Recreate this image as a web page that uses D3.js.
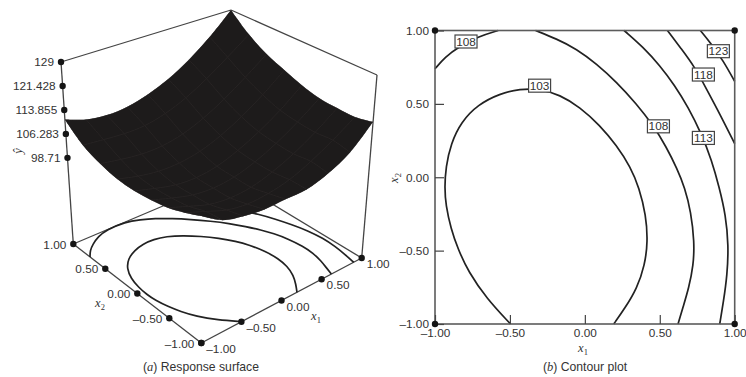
<!DOCTYPE html>
<html>
<head>
<meta charset="utf-8">
<script src="https://cdn.jsdelivr.net/npm/d3@7"></script>
<style>
  html, body { margin: 0; padding: 0; background: #fff; }
  svg { display: block; }
  text { font-family: "Liberation Sans", Arial, sans-serif; font-size: 11.8px; fill: #333; }
  .math { font-family: "Liberation Serif", serif; font-style: italic; font-size: 12.5px; }
  .caption { font-size: 12.2px; }
  .contour { fill: none; stroke: #222; stroke-width: 1.7; }
  .edge { fill: none; stroke: #444; stroke-width: 1.3; }
  .frame { fill: none; stroke: #5c5c5c; stroke-width: 1.6; }
  .dot { fill: #151515; }
</style>
</head>
<body>
<div id="chart"></div>
<script>
// tick labels
const axisTicks = [-1, -0.5, 0, 0.5, 1];
const axisLabels = ['\u20131.00', '\u20130.50', '0.00', '0.50', '1.00'];
const yTicks = [98.71, 106.283, 113.855, 121.428, 129];
const yLabels = ['98.71', '106.283', '113.855', '121.428', '129'];

// surface heights, rows are x2 from -1 to 1, columns x1 from -1 to 1
const gridSteps = [-1, -0.75, -0.5, -0.25, 0, 0.25, 0.5, 0.75, 1];
const surface = [
  [108.0, 104.1, 102.5, 101.7, 101.9, 102.0, 104.0, 107.6, 114.3],
  [105.8, 103.5, 101.2, 100.2, 100.6, 102.0, 104.8, 108.6, 113.1],
  [104.0, 101.8, 99.7, 98.9, 99.4, 101.3, 104.2, 108.2, 113.2],
  [103.0, 101.0, 99.3, 98.7, 99.4, 101.4, 104.5, 108.6, 113.6],
  [102.4, 100.6, 99.1, 98.7, 99.6, 101.9, 105.2, 109.5, 115.0],
  [102.6, 101.0, 100.0, 100.0, 101.1, 103.5, 107.0, 111.6, 117.2],
  [103.9, 102.8, 102.0, 102.1, 103.4, 106.0, 109.7, 114.4, 119.7],
  [106.2, 105.6, 105.1, 105.3, 106.8, 109.5, 113.4, 118.2, 123.5],
  [110.8, 108.6, 107.7, 108.1, 109.8, 112.6, 116.7, 122.1, 129.0]
];

// contour traces as [x1, x2]
const contour103 = [
  [-0.496, -1], [-0.656, -0.825], [-0.778, -0.644], [-0.848, -0.485], [-0.894, -0.349],
  [-0.928, -0.19], [-0.936, -0.07], [-0.928, 0.07], [-0.894, 0.229], [-0.826, 0.376],
  [-0.714, 0.495], [-0.567, 0.57], [-0.433, 0.602], [-0.3, 0.602], [-0.167, 0.562],
  [-0.033, 0.478], [0.1, 0.354], [0.211, 0.218], [0.305, 0.07], [0.362, -0.07],
  [0.408, -0.258], [0.42, -0.44], [0.4, -0.599], [0.348, -0.757], [0.267, -0.893], [0.193, -1]
];
const contour108Right = [
  [-0.329, 1], [-0.189, 0.943], [-0.056, 0.875], [0.078, 0.773], [0.211, 0.649],
  [0.344, 0.501], [0.456, 0.354], [0.544, 0.206], [0.615, 0.059], [0.667, -0.07],
  [0.708, -0.236], [0.731, -0.44], [0.725, -0.599], [0.693, -0.757], [0.656, -0.882], [0.622, -1]
];
const contour108Left = [[-1, 0.739], [-0.933, 0.819], [-0.844, 0.887], [-0.711, 0.959], [-0.578, 1]];
const contour113 = [
  [0.262, 1], [0.389, 0.887], [0.5, 0.762], [0.6, 0.626], [0.689, 0.478], [0.778, 0.297],
  [0.846, 0.116], [0.897, -0.07], [0.94, -0.258], [0.959, -0.463], [0.95, -0.667],
  [0.925, -0.848], [0.9, -1]
];
const contour118 = [[0.551, 1], [0.644, 0.875], [0.733, 0.751], [0.811, 0.603], [0.9, 0.433], [1, 0.229]];
const contour123 = [[0.771, 1], [0.844, 0.909], [0.922, 0.796], [1, 0.653]];

// contour label anchors: level, x1, x2
const contourLabels = [
  ['108', -0.793, 0.925], ['103', -0.302, 0.624], ['108', 0.491, 0.347],
  ['113', 0.791, 0.268], ['118', 0.791, 0.7], ['123', 0.891, 0.859]
];

const width = 746;
const height = 377;

const svg = d3.select('#chart').append('svg').attr('width', width).attr('height', height);

// ---- (a) response surface ----
// the box corners on screen; base and top of each vertical, bilinear between them
const boxBase = { front: [201.3, 343], left: [73.3, 244], right: [361.7, 258], back: [229, 178] };
const boxTop = { front: [201.5, 143], left: [61, 62], right: [377, 75], back: [231, 10] };
const u = d3.scaleLinear().domain([-1, 1]).range([0, 1]);
const heightScale = d3.scaleLinear().domain([71.5, 129]).range([0, 1]);

function bilinear(box, x1, x2) {
  const a = u(x1);
  const b = u(x2);
  return [0, 1].map((i) =>
    box.front[i] * (1 - a) * (1 - b) + box.right[i] * a * (1 - b) + box.left[i] * (1 - a) * b + box.back[i] * a * b);
}

function project(x1, x2, y) {
  const t = heightScale(y);
  const p0 = bilinear(boxBase, x1, x2);
  const p1 = bilinear(boxTop, x1, x2);
  return [p0[0] + (p1[0] - p0[0]) * t, p0[1] + (p1[1] - p0[1]) * t];
}

const left = svg.append('g').attr('class', 'surface-panel');
const smooth = d3.line().curve(d3.curveCatmullRom.alpha(0.5));
const traced = d3.line().curve(d3.curveBasis);
const floorY = heightScale.domain()[0];
const topY = heightScale.domain()[1];

const boxLines = [
  [[-1, 1, floorY], [-1, -1, floorY]],
  [[-1, -1, floorY], [1, -1, floorY]],
  [[-1, 1, floorY], [1, 1, floorY]],
  [[1, -1, floorY], [1, 1, floorY]],
  [[-1, 1, floorY], [-1, 1, topY]],
  [[1, -1, floorY], [1, -1, topY]],
  [[-1, 1, topY], [1, 1, topY]],
  [[1, -1, topY], [1, 1, topY]]
];
left.append('g').selectAll('line').data(boxLines).join('line')
  .attr('class', 'edge')
  .attr('x1', (d) => project(...d[0])[0])
  .attr('y1', (d) => project(...d[0])[1])
  .attr('x2', (d) => project(...d[1])[0])
  .attr('y2', (d) => project(...d[1])[1]);

// same contours on the floor of the box, the surface hides what is behind it
const floorContours = [contour103, contour108Left.concat(contour108Right), contour113];
left.append('g').selectAll('path').data(floorContours).join('path')
  .attr('class', 'contour')
  .attr('d', (d) => traced(d.map((p) => project(p[0], p[1], floorY))));

const rowPoints = surface.map((row, j) => row.map((y, i) => project(gridSteps[i], gridSteps[j], y)));
const colPoints = gridSteps.map((_, i) => surface.map((row, j) => project(gridSteps[i], gridSteps[j], row[i])));

const outlineParts = [
  rowPoints[0],
  colPoints[8],
  rowPoints[8].slice().reverse(),
  colPoints[0].slice().reverse()
].map((pts, i) => {
  const d = smooth(pts);
  return i === 0 ? d : d.replace(/^M/, 'L');
});
const outline = outlineParts.join('') + 'Z';

svg.append('clipPath').attr('id', 'surface-clip').append('path').attr('d', outline);
left.append('path').attr('d', outline).attr('fill', '#1d1b1b');

left.append('g').attr('clip-path', 'url(#surface-clip)')
  .selectAll('path').data(rowPoints.concat(colPoints)).join('path')
  .attr('d', (d) => smooth(d))
  .attr('fill', 'none')
  .attr('stroke', '#292626')
  .attr('stroke-width', 0.8);

// y axis ticks run up the left vertical
left.append('g').selectAll('circle').data(yTicks).join('circle')
  .attr('class', 'dot')
  .attr('r', 3.2)
  .attr('cx', (d) => project(-1, 1, d)[0])
  .attr('cy', (d) => project(-1, 1, d)[1]);
left.append('g').selectAll('text').data(yTicks).join('text')
  .attr('x', (d) => project(-1, 1, d)[0] - 7)
  .attr('y', (d) => project(-1, 1, d)[1] + 4)
  .attr('text-anchor', 'end')
  .text((d, i) => yLabels[i]);

const x2Ticks = left.append('g').selectAll('g').data(axisTicks).join('g')
  .attr('transform', (d) => `translate(${project(-1, d, floorY)})`);
x2Ticks.append('circle').attr('class', 'dot').attr('r', 3.2);
x2Ticks.append('text').attr('x', -7).attr('y', 4.5).attr('text-anchor', 'end').text((d, i) => axisLabels[i]);

const x1Ticks = left.append('g').selectAll('g').data(axisTicks).join('g')
  .attr('transform', (d) => `translate(${project(d, -1, floorY)})`);
x1Ticks.append('circle').attr('class', 'dot').attr('r', 3.2);
x1Ticks.append('text').attr('x', 5).attr('y', 10).attr('text-anchor', 'start').text((d, i) => axisLabels[i]);

function mathLabel(parent, x, y, sub, rotate) {
  const t = parent.append('text').attr('class', 'math').attr('text-anchor', 'middle')
    .attr('transform', `translate(${x},${y})${rotate ? ` rotate(${rotate})` : ''}`);
  t.append('tspan').attr('class', 'math').text('x');
  t.append('tspan').attr('class', 'math').attr('dy', 2.5).style('font-size', '8.5px').style('font-style', 'normal').text(sub);
}

mathLabel(left, 100, 307, '2');
mathLabel(left, 316, 320, '1');
left.append('text').attr('class', 'math')
  .attr('transform', 'translate(22,151) rotate(-90)')
  .attr('text-anchor', 'middle')
  .text('\u0177');

function caption(x, letter, rest) {
  const t = svg.append('text').attr('class', 'caption').attr('x', x).attr('y', 371).attr('text-anchor', 'middle');
  t.append('tspan').text('(');
  t.append('tspan').attr('class', 'math').text(letter);
  t.append('tspan').text(') ' + rest);
}
caption(201, 'a', 'Response surface');
caption(585, 'b', 'Contour plot');

// ---- (b) contour plot ----
const x = d3.scaleLinear().domain([-1, 1]).range([435, 734.7]);
const y = d3.scaleLinear().domain([-1, 1]).range([324, 30.5]);
const right = svg.append('g').attr('class', 'contour-panel');

const contourLine = d3.line()
  .x((d) => x(d[0]))
  .y((d) => y(d[1]))
  .curve(d3.curveBasis);

right.append('g').selectAll('path')
  .data([contour103, contour108Left, contour108Right, contour113, contour118, contour123])
  .join('path')
  .attr('class', 'contour')
  .attr('d', contourLine);

right.append('rect').attr('class', 'frame')
  .attr('x', x(-1)).attr('y', y(1))
  .attr('width', x(1) - x(-1)).attr('height', y(-1) - y(1));

const labelOf = (d) => axisLabels[axisTicks.indexOf(d)];
const yAxis = d3.axisLeft(y).tickValues(axisTicks).tickSize(-9).tickPadding(6).tickFormat(labelOf);
const xAxis = d3.axisBottom(x).tickValues(axisTicks).tickSize(-9).tickPadding(5).tickFormat(labelOf);

const yAxisG = right.append('g').attr('transform', `translate(${x(-1)},0)`).call(yAxis);
const xAxisG = right.append('g').attr('transform', `translate(0,${y(-1)})`).call(xAxis);
[yAxisG, xAxisG].forEach((g) => {
  g.select('.domain').remove();
  g.attr('font-size', null).attr('font-family', null);
  g.selectAll('.tick line').attr('stroke', '#444').attr('stroke-width', 1.2);
  g.selectAll('.tick text').attr('fill', null);
});

const corners = [[-1, -1], [-1, 1], [1, -1], [1, 1]];
right.append('g').selectAll('circle').data(corners).join('circle')
  .attr('class', 'dot')
  .attr('r', 3.2)
  .attr('cx', (d) => x(d[0]))
  .attr('cy', (d) => y(d[1]));

const tags = right.append('g').selectAll('g').data(contourLabels).join('g')
  .attr('transform', (d) => `translate(${x(d[1])},${y(d[2])})`);
tags.append('rect')
  .attr('x', -11).attr('y', -6.5).attr('width', 22).attr('height', 13)
  .attr('fill', '#fff').attr('stroke', '#444').attr('stroke-width', 1.2);
tags.append('text').attr('text-anchor', 'middle').attr('y', 4).text((d) => d[0]);

mathLabel(right, 583, 352, '1');
mathLabel(right, 398, 178, '2', -90);
</script>
</body>
</html>
